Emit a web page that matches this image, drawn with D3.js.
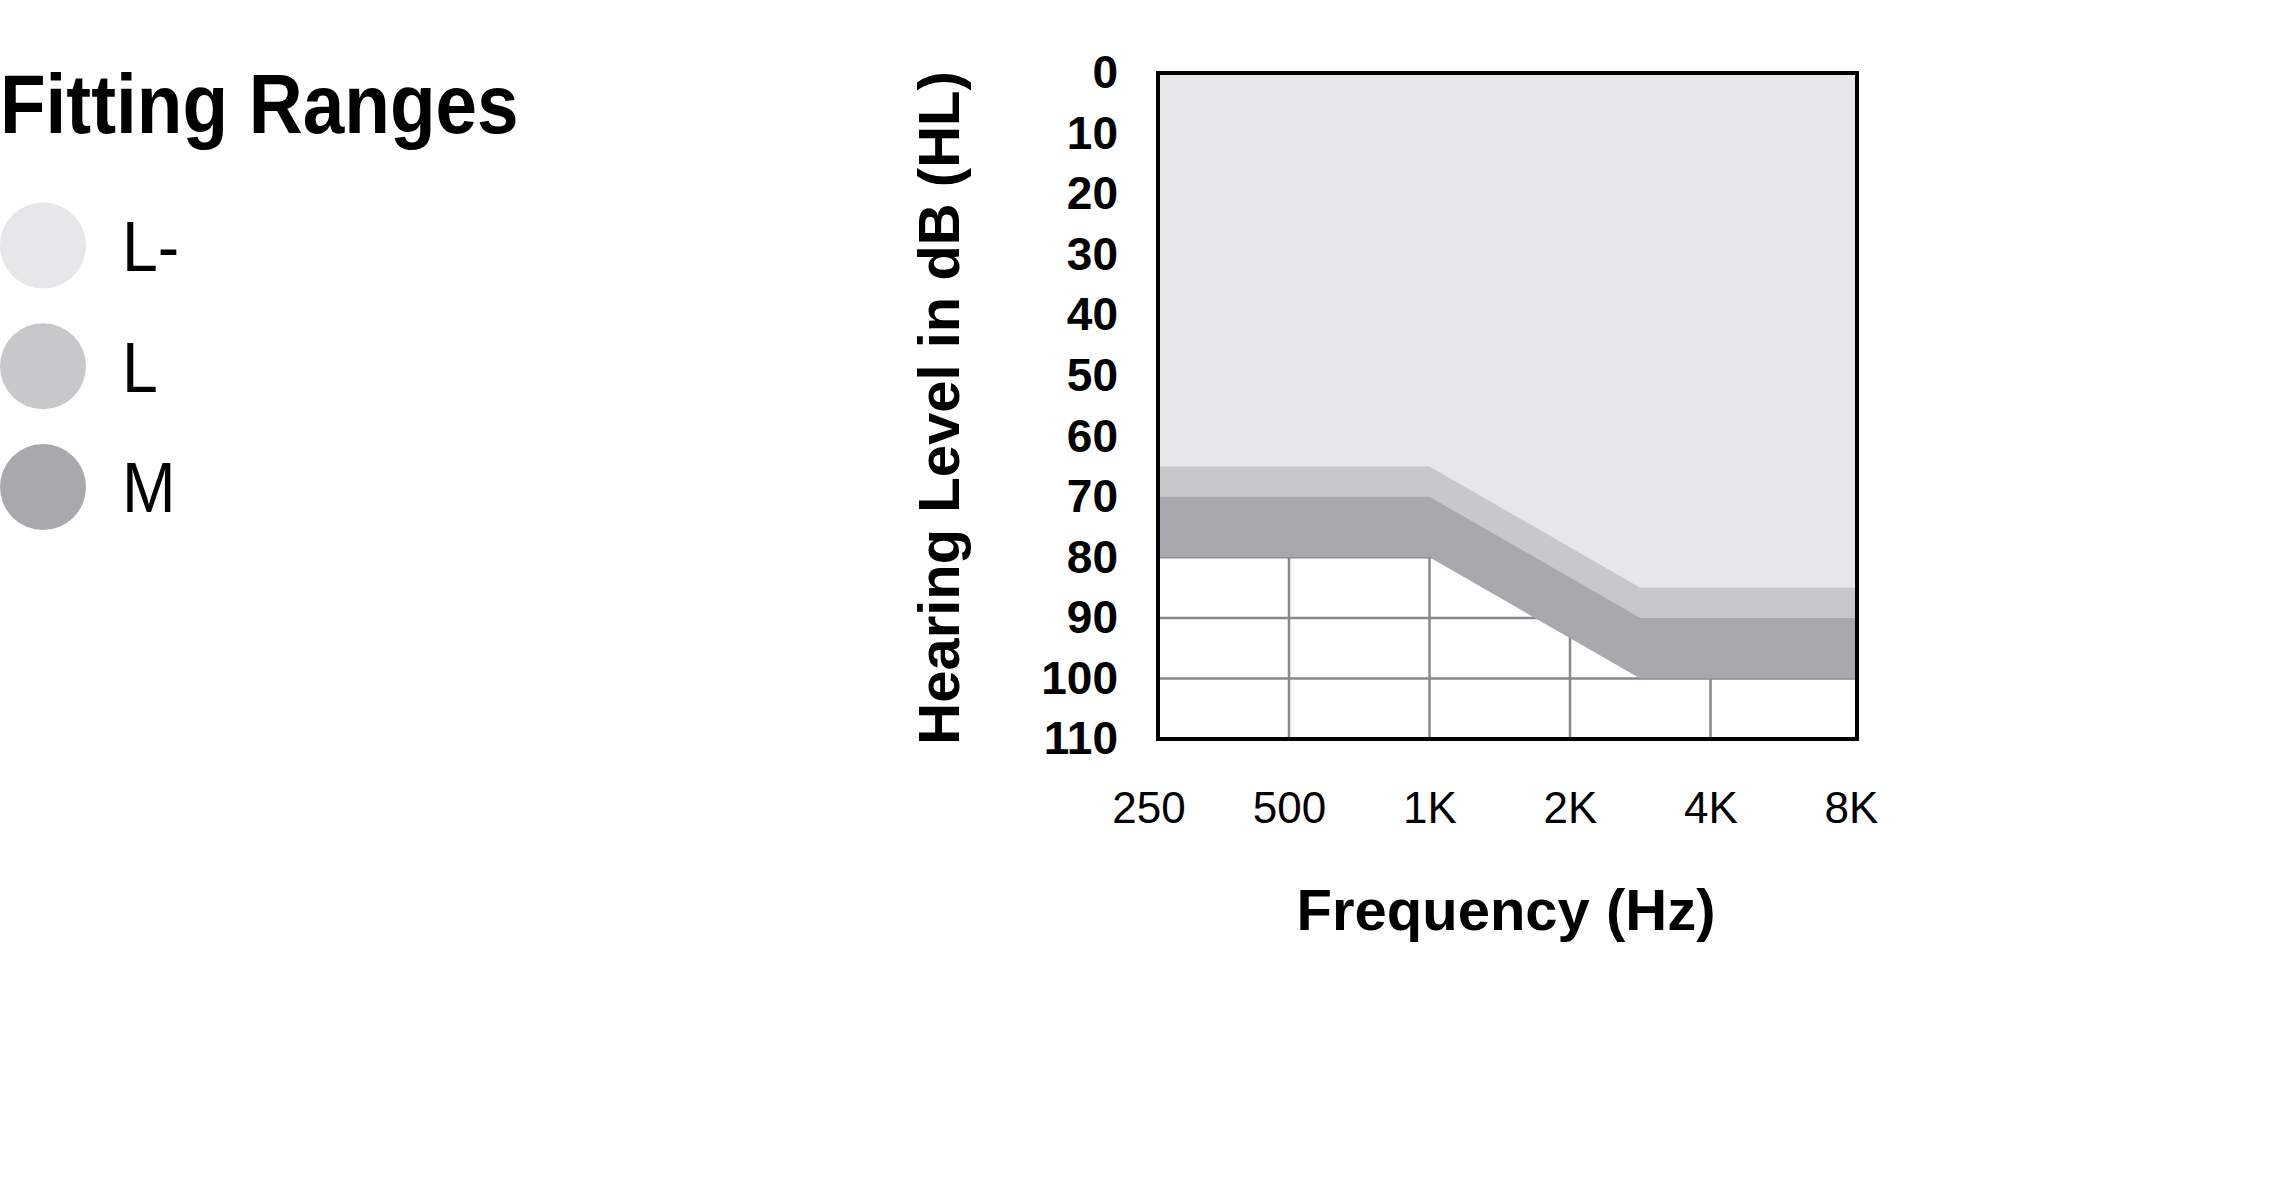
<!DOCTYPE html>
<html>
<head>
<meta charset="utf-8">
<script src="https://cdn.jsdelivr.net/npm/d3@7"></script>
<style>
  html, body { margin: 0; padding: 0; background: #ffffff; }
  svg { display: block; }
  text { font-family: "Liberation Sans", Arial, Helvetica, sans-serif; fill: #000; }
</style>
</head>
<body>
<svg id="chart" width="2280" height="1200"></svg>
<script>
// ---------- data ----------
const legendTitle = "Fitting Ranges";
const rangeNames = ["L-", "L", "M"];
const rangeColors = ["#e6e7e8", "#c7c8ca", "#a7a9ac"];
const frequencies = [250, 1000, 3000, 8000];          // Hz, knee points of the ranges
const limitLMinus = [65, 65, 85, 85];                   // dB HL, lower edge of L-
const limitL = [70, 70, 90, 90];                        // dB HL, lower edge of L
const limitM = [80, 80, 100, 100];                      // dB HL, lower edge of M
const freqTicks = [250, 500, 1000, 2000, 4000, 8000];
const freqTickLabels = ["250", "500", "1K", "2K", "4K", "8K"];
const dbTicks = [0, 10, 20, 30, 40, 50, 60, 70, 80, 90, 100, 110];
const xTitle = "Frequency (Hz)";
const yTitle = "Hearing Level in dB (HL)";

// ---------- layout ----------
const svg = d3.select("#chart");

// audiogram: octaves evenly spaced (piecewise linear between octave ticks)
const x = d3.scaleLinear()
  .domain(freqTicks)
  .range(d3.quantize(d3.interpolate(1148.5, 1851), freqTicks.length));
const y = d3.scaleLinear().domain([0, 110]).range([73, 739]);

const frameL = 1158, frameR = 1857, frameT = y(0), frameB = y(110);

// clip to plot interior
svg.append("defs").append("clipPath").attr("id", "plotClip")
  .append("rect")
  .attr("x", frameL).attr("y", frameT)
  .attr("width", frameR - frameL).attr("height", frameB - frameT);

const plot = svg.append("g").attr("clip-path", "url(#plotClip)");

// grid
const gridColor = "#88898b";
plot.append("g").selectAll("line.h")
  .data(dbTicks.filter(d => d > 0 && d < 110))
  .join("line")
  .attr("x1", frameL).attr("x2", frameR)
  .attr("y1", d => y(d)).attr("y2", d => y(d))
  .attr("stroke", gridColor).attr("stroke-width", 2.5);
plot.append("g").selectAll("line.v")
  .data(freqTicks.slice(1, -1))
  .join("line")
  .attr("x1", d => x(d)).attr("x2", d => x(d))
  .attr("y1", frameT).attr("y2", frameB)
  .attr("stroke", gridColor).attr("stroke-width", 2.5);

// ranges: draw widest (M) first, each from 0 dB down to its limit
const xPos = f => f <= freqTicks[0] ? frameL - 2 : (f >= freqTicks[freqTicks.length - 1] ? frameR + 2 : x(f));
const ranges = [
  { name: rangeNames[2], color: rangeColors[2], limit: limitM },
  { name: rangeNames[1], color: rangeColors[1], limit: limitL },
  { name: rangeNames[0], color: rangeColors[0], limit: limitLMinus }
];
const area = d3.area()
  .x(d => xPos(d.f))
  .y0(y(0) - 2)
  .y1(d => y(d.v));
ranges.forEach(r => {
  const pts = frequencies.map((f, i) => ({ f, v: r.limit[i] }));
  plot.append("path")
    .datum(pts)
    .attr("d", area)
    .attr("fill", r.color);
});

// frame
svg.append("rect")
  .attr("x", frameL).attr("y", frameT)
  .attr("width", frameR - frameL).attr("height", frameB - frameT)
  .attr("fill", "none").attr("stroke", "#000").attr("stroke-width", 4);

// y axis
const yAxis = svg.append("g")
  .attr("transform", `translate(${frameL},0)`)
  .call(d3.axisLeft(y).tickValues(dbTicks).tickSize(0).tickPadding(40));
yAxis.select(".domain").remove();
yAxis.selectAll("text")
  .attr("font-family", "'Liberation Sans', Arial, Helvetica, sans-serif")
  .attr("font-size", 46).attr("font-weight", "bold").attr("fill", "#000");

// x axis
const xAxis = svg.append("g")
  .attr("transform", `translate(0,${frameB})`)
  .call(d3.axisBottom(x).tickValues(freqTicks).tickSize(0).tickPadding(53)
    .tickFormat((d, i) => freqTickLabels[i]));
xAxis.select(".domain").remove();
xAxis.selectAll("text")
  .attr("font-family", "'Liberation Sans', Arial, Helvetica, sans-serif")
  .attr("font-size", 44).attr("fill", "#000");

// axis titles
svg.append("text")
  .attr("transform", "translate(959,408) rotate(-90)")
  .attr("text-anchor", "middle")
  .attr("font-size", 58).attr("font-weight", "bold")
  .text(yTitle);
svg.append("text")
  .attr("x", 1506).attr("y", 930)
  .attr("text-anchor", "middle")
  .attr("font-size", 58).attr("font-weight", "bold")
  .text(xTitle);

// legend
const legend = svg.append("g");
legend.append("text")
  .attr("transform", "translate(0,132.7) scale(0.9,1)")
  .attr("font-size", 83).attr("font-weight", "bold")
  .text(legendTitle);
const legendRowY = d3.scaleLinear().domain([0, 2]).range([245.5, 487]);
const items = legend.selectAll("g.item")
  .data(rangeNames.map((n, i) => ({ name: n, color: rangeColors[i], i })))
  .join("g").attr("class", "item")
  .attr("transform", d => `translate(0,${legendRowY(d.i)})`);
items.append("circle")
  .attr("cx", 43).attr("cy", 0).attr("r", 43)
  .attr("fill", d => d.color);
items.append("text")
  .attr("transform", "translate(122,25.3) scale(0.92,1)")
  .attr("font-size", 70)
  .text(d => d.name);
</script>
</body>
</html>
